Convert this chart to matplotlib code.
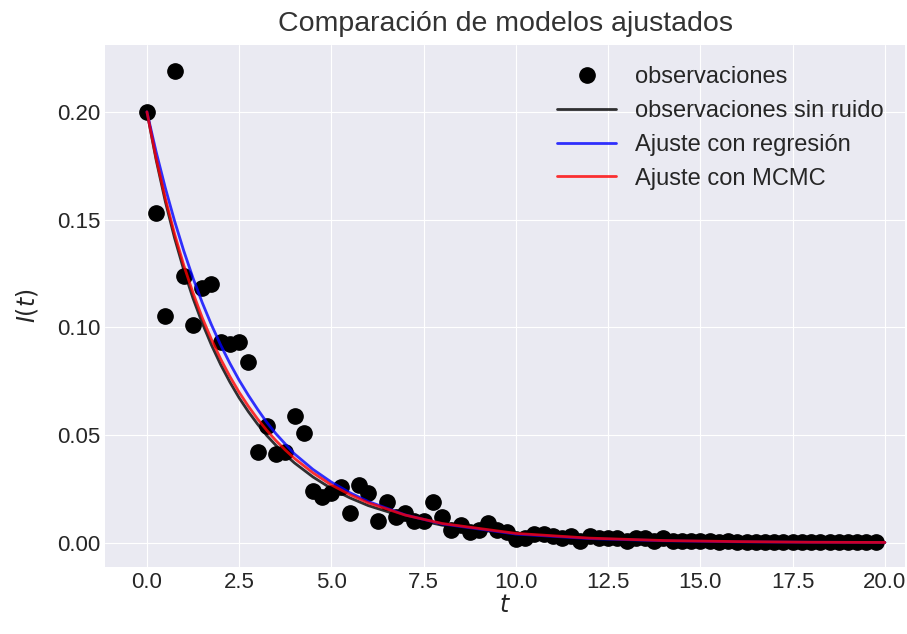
import matplotlib
matplotlib.use("Agg")
import matplotlib.pyplot as plt
import numpy as np

t_obs = np.arange(0, 20, 0.25)
I_obs = [
    0.200, 0.153, 0.105, 0.219, 0.124, 0.101, 0.118, 0.120,
    0.093, 0.092, 0.093, 0.084, 0.042, 0.054, 0.041, 0.042,
    0.059, 0.051, 0.024, 0.021, 0.023, 0.026, 0.014, 0.027,
    0.023, 0.010, 0.019, 0.012, 0.014, 0.010, 0.010, 0.019,
    0.012, 0.006, 0.008, 0.005, 0.006, 0.009, 0.006, 0.005,
    0.0015, 0.002, 0.004, 0.004, 0.003, 0.002, 0.003, 0.001,
    0.003, 0.002, 0.002, 0.002, 0.001, 0.002, 0.002, 0.001,
    0.002, 0.001, 0.001, 0.0008, 0.0006, 0.0007, 0.0005, 0.0006,
    0.0004, 0.0005, 0.0004, 0.0003, 0.0004, 0.0003, 0.0002, 0.0003,
    0.0002, 0.0002, 0.0002, 0.0001, 0.0002, 0.0001, 0.0001, 0.0001,
]

# fitted / noiseless curves, read at a few times
t_curve = [0, 0.25, 0.5, 0.75, 1, 1.25, 1.5, 1.75, 2, 2.25, 2.5, 2.75,
           3, 3.25, 3.5, 3.75, 4, 4.5, 5, 5.5, 6, 7, 8,
           10, 12, 14, 16, 18, 20]
I_true = [0.2000, 0.1777, 0.1583, 0.1414, 0.1265, 0.1134, 0.1019, 0.0917,
          0.0826, 0.0745, 0.0672, 0.0608, 0.0550, 0.0497, 0.0451, 0.0408,
          0.0370, 0.0305, 0.0251, 0.0208, 0.0172, 0.0118, 0.0081,
          0.0038, 0.0018, 0.0009, 0.0004, 0.0002, 0.0001]
I_reg = [0.2000, 0.1814, 0.1646, 0.1493, 0.1354, 0.1228, 0.1114, 0.1011,
         0.0917, 0.0832, 0.0754, 0.0684, 0.0619, 0.0558, 0.0505, 0.0458,
         0.0412, 0.0340, 0.0281, 0.0232, 0.0191, 0.0129, 0.0087,
         0.0040, 0.0019, 0.0009, 0.0004, 0.0002, 0.0001]
I_mcmc = [0.2000, 0.1785, 0.1598, 0.1433, 0.1287, 0.1159, 0.1044, 0.0943,
          0.0852, 0.0771, 0.0698, 0.0633, 0.0574, 0.0521, 0.0473, 0.0430,
          0.0391, 0.0324, 0.0268, 0.0223, 0.0185, 0.0128, 0.0089,
          0.0043, 0.0021, 0.0010, 0.0005, 0.0002, 0.0001]

plt.style.use("seaborn-v0_8-darkgrid")
plt.rcParams["font.sans-serif"] = ["Liberation Sans", "DejaVu Sans"]

fig, ax = plt.subplots(figsize=(9.07, 6.34), dpi=100)
fig.subplots_adjust(left=0.116, right=0.998, top=0.929, bottom=0.106)

ax.plot(t_obs, I_obs, "ko", markersize=11, label="observaciones")
ax.plot(t_curve, I_true, color="black", lw=2, alpha=0.8,
        label="observaciones sin ruido")
ax.plot(t_curve, I_reg, color="blue", lw=2, alpha=0.8,
        label="Ajuste con regresión")
ax.plot(t_curve, I_mcmc, color="red", lw=2, alpha=0.8,
        label="Ajuste con MCMC")

ax.set_xlim(-1.13, 20.55)
ax.set_ylim(-0.0112, 0.231)
ax.set_xticks([0, 2.5, 5, 7.5, 10, 12.5, 15, 17.5, 20])
ax.tick_params(labelsize=16)

ax.set_title("Comparación de modelos ajustados", fontsize=20.5, pad=10,
             color="#333333")
ax.set_xlabel("$t$", fontsize=17)
ax.set_ylabel("$I(t)$", fontsize=17)
ax.xaxis.set_label_coords(0.5, -0.054)
ax.yaxis.set_label_coords(-0.082, 0.5)
ax.legend(loc="upper right", fontsize=17, handlelength=2.5)

fig.savefig("out.png", dpi=100)
